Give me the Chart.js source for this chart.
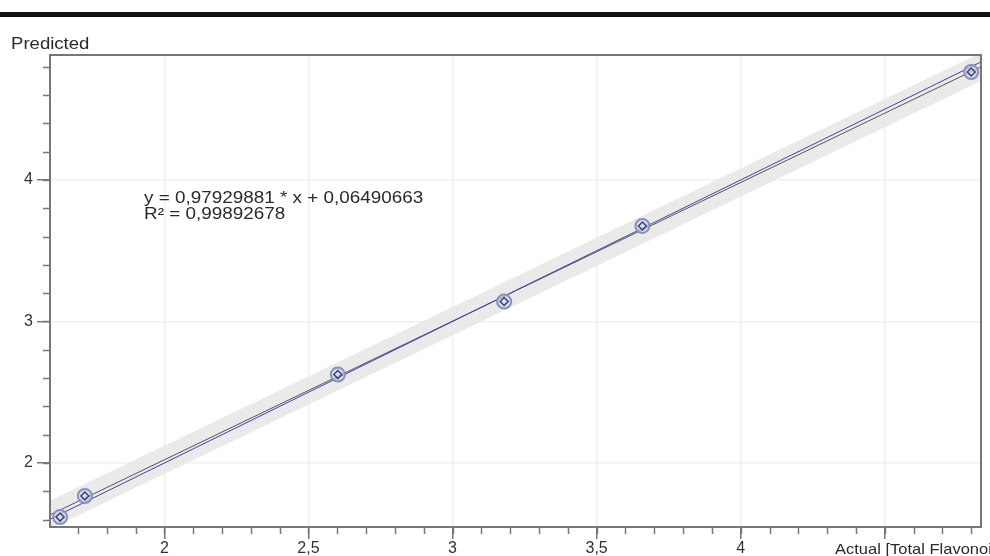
<!DOCTYPE html>
<html>
<head>
<meta charset="utf-8">
<script src="https://cdn.jsdelivr.net/npm/chart.js@4/dist/chart.umd.min.js"></script>
<style>
html, body { margin: 0; padding: 0; background: #fff; }
</style>
</head>
<body>
<canvas id="chart" width="990" height="556"></canvas>
<script>
const actual = [1.638, 1.724, 2.602, 3.179, 3.659, 4.800];
const predicted = [1.618, 1.767, 2.625, 3.141, 3.675, 4.763];

// line end points
const lineX = [1.603, 4.834];
const fitY = [1.634, 4.799];
const idealY = [1.603, 4.834];
const bandLow = [1.534, 4.699];
const bandHigh = [1.734, 4.899];

// axes
const xMajor = [2, 2.5, 3, 3.5, 4, 4.5];
const xLabels = ['2', '2,5', '3', '3,5', '4', ''];
const yMajor = [2, 3, 4];
const yLabels = ['2', '3', '4'];
const xRange = [1.603, 4.834];
const yRange = [1.548, 4.883];

const eqText = ['y = 0,97929881 * x + 0,06490663', 'R\u00b2 = 0,99892678'];
const FONT = '"Liberation Sans", Arial, sans-serif';

function pts(xs, ys) {
    return xs.map((x, i) => ({ x: x, y: ys[i] }));
}

// the source picture is a bit stretched sideways, so texts get a wider scale
function wideText(ctx, txt, x, y, size, sx) {
    ctx.save();
    ctx.font = size + 'px ' + FONT;
    ctx.translate(x, y);
    ctx.scale(sx, 1);
    ctx.fillText(txt, 0, 0);
    ctx.restore();
}

const decor = {
    id: 'decor',
    beforeDraw(chart) {
        const ctx = chart.ctx;
        ctx.save();
        ctx.fillStyle = '#fff';
        ctx.fillRect(0, 0, chart.width, chart.height);
        ctx.fillStyle = '#111';
        ctx.fillRect(0, 12, chart.width, 5);
        ctx.restore();
    },
    afterDraw(chart) {
        const ctx = chart.ctx;
        const a = chart.chartArea;
        const xs = chart.scales.x, ys = chart.scales.y;
        ctx.save();
        // frame
        ctx.strokeStyle = '#777';
        ctx.lineWidth = 2;
        ctx.strokeRect(a.left, a.top, a.right - a.left, a.bottom - a.top);
        // minor ticks
        ctx.lineWidth = 1.5;
        ctx.beginPath();
        for (let v = 1.7; v < xRange[1]; v += 0.1) {
            const px = Math.round(xs.getPixelForValue(v)) + 0.5;
            ctx.moveTo(px, a.bottom);
            ctx.lineTo(px, a.bottom + 7);
        }
        for (let v = 1.6; v < yRange[1]; v += 0.2) {
            const py = Math.round(ys.getPixelForValue(v)) + 0.5;
            ctx.moveTo(a.left, py);
            ctx.lineTo(a.left - 7, py);
        }
        ctx.stroke();
        // texts
        ctx.fillStyle = '#2a2a2a';
        ctx.textBaseline = 'alphabetic';
        wideText(ctx, 'Predicted', 11, 49, 16, 1.16);
        wideText(ctx, 'Actual [Total Flavonoids]', 835, 554, 15, 1.1);
        wideText(ctx, eqText[0], 144, 203, 16, 1.18);
        wideText(ctx, eqText[1], 144, 219, 16, 1.18);
        ctx.restore();
    }
};

new Chart(document.getElementById('chart'), {
    type: 'scatter',
    data: {
        datasets: [
            {
                data: pts(actual, predicted),
                pointStyle: 'rectRot',
                pointRadius: 4,
                borderColor: '#3c4278',
                borderWidth: 1.5,
                backgroundColor: 'rgba(0,0,0,0)'
            },
            {
                data: pts(actual, predicted),
                pointStyle: 'circle',
                pointRadius: 7,
                borderColor: '#8a8fba',
                borderWidth: 2,
                backgroundColor: 'rgba(210,214,232,0.7)'
            },
            {
                type: 'line',
                data: pts(lineX, idealY),
                borderColor: '#3b44a8',
                borderWidth: 1,
                pointRadius: 0
            },
            {
                type: 'line',
                data: pts(lineX, fitY),
                borderColor: '#555',
                borderWidth: 1,
                pointRadius: 0
            },
            {
                type: 'line',
                data: pts(lineX, bandLow),
                borderColor: 'rgba(0,0,0,0)',
                pointRadius: 0
            },
            {
                type: 'line',
                data: pts(lineX, bandHigh),
                borderColor: 'rgba(0,0,0,0)',
                backgroundColor: 'rgba(230,230,232,0.85)',
                fill: '-1',
                pointRadius: 0
            }
        ]
    },
    options: {
        responsive: false,
        animation: false,
        devicePixelRatio: 1,
        layout: { padding: { top: 55, right: 3, left: 0, bottom: 0 } },
        plugins: {
            legend: { display: false },
            tooltip: { enabled: false }
        },
        scales: {
            x: {
                type: 'linear',
                min: xRange[0],
                max: xRange[1],
                afterBuildTicks: s => { s.ticks = xMajor.map(v => ({ value: v })); },
                afterFit: s => { s.height = 29; },
                ticks: {
                    callback: (v, i) => xLabels[i],
                    color: '#333',
                    font: { family: FONT, size: 16 },
                    padding: 0,
                    maxRotation: 0,
                    autoSkip: false
                },
                grid: { color: '#f0f0f0', tickColor: '#777', tickLength: 12, lineWidth: 1.5 },
                border: { color: '#777', width: 2 }
            },
            y: {
                type: 'linear',
                min: yRange[0],
                max: yRange[1],
                afterBuildTicks: s => { s.ticks = yMajor.map(v => ({ value: v })); },
                afterFit: s => { s.width = 50; },
                ticks: {
                    callback: (v, i) => yLabels[i],
                    color: '#333',
                    font: { family: FONT, size: 16 },
                    padding: 4,
                    autoSkip: false
                },
                grid: { color: '#f0f0f0', tickColor: '#777', tickLength: 13, lineWidth: 1.5 },
                border: { color: '#777', width: 2 }
            }
        }
    },
    plugins: [decor]
});
</script>
</body>
</html>
